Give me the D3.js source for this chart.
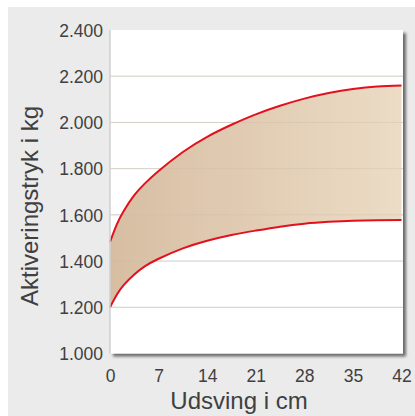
<!DOCTYPE html>
<html>
<head>
<meta charset="utf-8">
<script src="https://d3js.org/d3.v7.min.js"></script>
<style>
  html, body { margin: 0; padding: 0; background: #fff; }
  text { font-family: "Liberation Sans", Arial, sans-serif; fill: #404040; }
</style>
</head>
<body>
<div id="chart"></div>
<script>
// data
const udsving = [0, 1, 2, 3.5, 5, 7, 10.5, 14, 17.5, 21, 24.5, 28, 31.5, 35, 38.5, 42];
const upper   = [1483, 1560, 1618, 1685, 1735, 1790, 1872, 1938, 1990, 2035, 2072, 2103, 2127, 2145, 2156, 2160];
const lower   = [1200, 1255, 1297, 1342, 1377, 1410, 1455, 1488, 1513, 1532, 1549, 1562, 1570, 1575, 1577, 1578];
const xTicks  = [0, 7, 14, 21, 28, 35, 42];
const yTicks  = [1000, 1200, 1400, 1600, 1800, 2000, 2200, 2400];

const W = 415, H = 416;
const plot = { left: 110, right: 403, top: 30, bottom: 353.5 };

const svg = d3.select("#chart").append("svg")
  .attr("width", W).attr("height", H);

const defs = svg.append("defs");
const grad = defs.append("linearGradient").attr("id", "fillGrad")
  .attr("x1", "0%").attr("x2", "100%").attr("y1", "0%").attr("y2", "0%");
grad.append("stop").attr("offset", "0%").attr("stop-color", "#d7bea3");
grad.append("stop").attr("offset", "100%").attr("stop-color", "#ecdcc5");

const shadow = defs.append("filter").attr("id", "shadow")
  .attr("x", "-5%").attr("y", "-5%").attr("width", "115%").attr("height", "115%");
shadow.append("feGaussianBlur").attr("in", "SourceAlpha").attr("stdDeviation", 1.5);
shadow.append("feOffset").attr("dx", 3).attr("dy", 3).attr("result", "b");
shadow.append("feComponentTransfer").append("feFuncA").attr("type", "linear").attr("slope", 0.55);
const merge = shadow.append("feMerge");
merge.append("feMergeNode");
merge.append("feMergeNode").attr("in", "SourceGraphic");

// background panel
svg.append("rect").attr("x", 0).attr("y", 0).attr("width", W).attr("height", H).attr("fill", "#fff");
svg.append("rect").attr("x", 8).attr("y", 7).attr("width", W - 8).attr("height", H - 7).attr("fill", "#ebebeb");

const x = d3.scaleLinear().domain([0, 42]).range([plot.left, plot.right - 1.5]);
const y = d3.scaleLinear().domain([1000, 2400]).range([plot.bottom, plot.top]);

// plot area
svg.append("rect")
  .attr("x", plot.left).attr("y", plot.top)
  .attr("width", plot.right - plot.left).attr("height", plot.bottom - plot.top)
  .attr("fill", "#fff").attr("filter", "url(#shadow)");

// gridlines
svg.append("g").selectAll("line").data(yTicks.slice(1, -1)).join("line")
  .attr("x1", plot.left).attr("x2", plot.right)
  .attr("y1", d => y(d)).attr("y2", d => y(d))
  .attr("stroke", "#dcdcdc").attr("stroke-width", 1);

// band
const pts = udsving.map((u, i) => ({ u, hi: upper[i], lo: lower[i] }));
svg.append("path").datum(pts)
  .attr("d", d3.area().curve(d3.curveNatural)
    .x(d => x(d.u)).y0(d => y(d.lo)).y1(d => y(d.hi)))
  .attr("fill", "url(#fillGrad)");

// gridlines faintly visible through the fill
svg.append("g").selectAll("line").data(yTicks.slice(1, -1)).join("line")
  .attr("x1", plot.left).attr("x2", plot.right)
  .attr("y1", d => y(d)).attr("y2", d => y(d))
  .attr("stroke", "#c9b8a5").attr("stroke-opacity", 0.35).attr("stroke-width", 1);

["hi", "lo"].forEach(k => {
  svg.append("path").datum(pts)
    .attr("d", d3.line().curve(d3.curveNatural).x(d => x(d.u)).y(d => y(d[k])))
    .attr("fill", "none").attr("stroke", "#e3101e").attr("stroke-width", 2);
});

// left edge of plot
svg.append("line")
  .attr("x1", plot.left).attr("x2", plot.left)
  .attr("y1", plot.top).attr("y2", plot.bottom)
  .attr("stroke", "#cfcfcf").attr("stroke-width", 1.5);

// axes (labels only)
const yAxis = svg.append("g").attr("transform", `translate(${plot.left - 7},0)`)
  .call(d3.axisLeft(y).tickValues(yTicks).tickSize(0).tickPadding(0)
    .tickFormat(d => (d / 1000).toFixed(3)));
yAxis.select(".domain").remove();
yAxis.selectAll("text").attr("font-size", 17.5).attr("dy", "0.36em");

const xAxis = svg.append("g").attr("transform", `translate(0,${plot.bottom + 28})`)
  .call(d3.axisBottom(x).tickValues(xTicks).tickSize(0).tickPadding(0));
xAxis.select(".domain").remove();
xAxis.selectAll("text").attr("font-size", 17.5).attr("dy", 0);

// titles
svg.append("text")
  .attr("x", 239).attr("y", 409)
  .attr("text-anchor", "middle").attr("font-size", 24)
  .text("Udsving i cm");

svg.append("text")
  .attr("transform", "translate(38,206) rotate(-90)")
  .attr("text-anchor", "middle").attr("font-size", 24)
  .text("Aktiveringstryk i kg");
</script>
</body>
</html>
